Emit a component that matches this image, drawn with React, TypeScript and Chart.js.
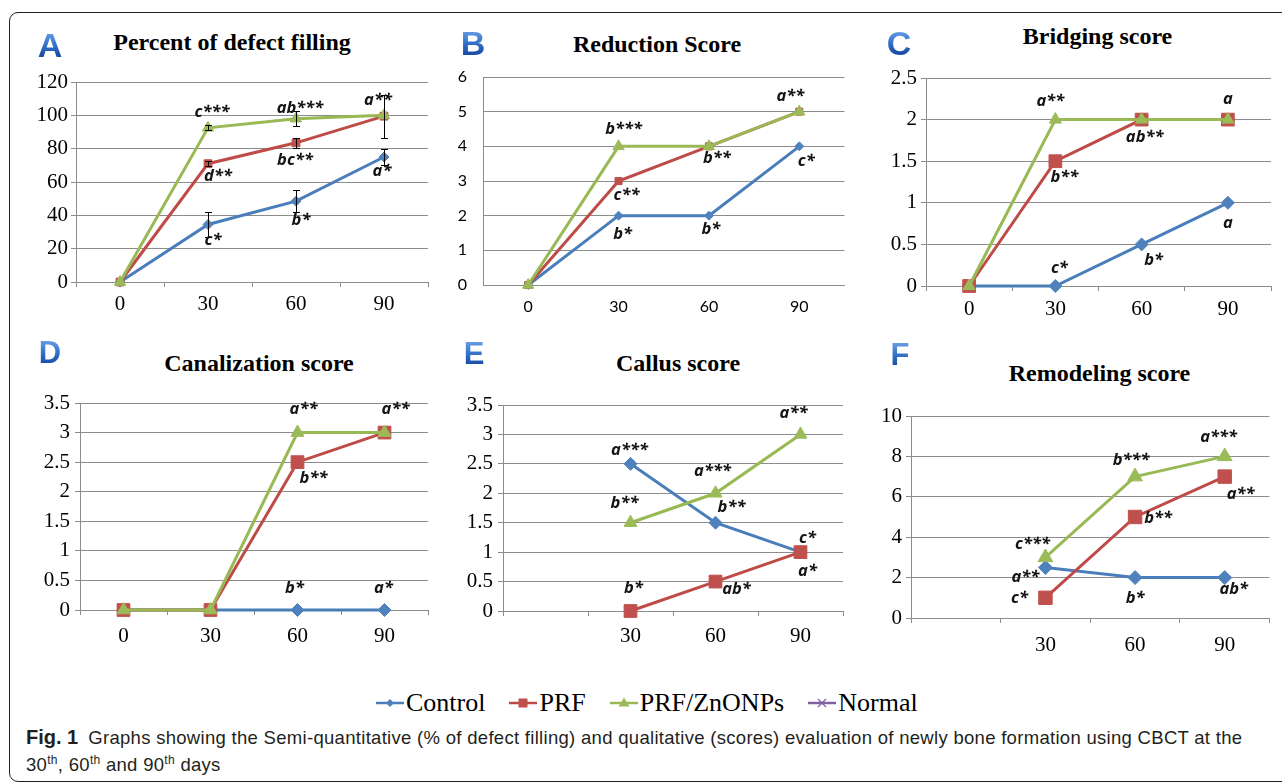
import React, { useEffect, useRef } from "react";
import { Chart, registerables } from "chart.js";

Chart.register(...registerables);

// ---------------- data ----------------
const dayLabels = ["0", "30", "60", "90"];
const dayLabelsLate = ["", "30", "60", "90"];
const seriesNames = ["Control", "PRF", "PRF/ZnONPs", "Normal"];

// A - Percent of defect filling
const fillControl = [0, 34.5, 48.5, 75];
const fillPRF = [0, 71, 83.5, 99.5];
const fillZn = [0, 92.5, 98, 100];
const fillControlErr = [0, 7.5, 6.5, 5];
const fillPRFErr = [0, 1.5, 3, 13];
const fillZnErr = [0, 1.5, 4.5, 0];
const fillTicks = [0, 120, 20];
const fillControlSig = ["", "c*", "b*", "a*"];
const fillPRFSig = ["", "d**", "bc**", "a**"];
const fillZnSig = ["", "c***", "ab***", ""];

// B - Reduction score
const reductionControl = [0, 2, 2, 4];
const reductionPRF = [0, 3, 4, 5];
const reductionZn = [0, 4, 4, 5];
const reductionTicks = [0, 6, 1];
const reductionControlSig = ["", "b*", "b*", "c*"];
const reductionPRFSig = ["", "c**", "b**", "a**"];
const reductionZnSig = ["", "b***", "", ""];

// C - Bridging score
const bridgingControl = [0, 0, 0.5, 1];
const bridgingPRF = [0, 1.5, 2, 2];
const bridgingZn = [0, 2, 2, 2];
const bridgingTicks = [0, 2.5, 0.5];
const bridgingControlSig = ["", "c*", "b*", "a"];
const bridgingPRFSig = ["", "b**", "ab**", "a"];
const bridgingZnSig = ["", "a**", "", ""];

// D - Canalization score
const canalControl = [0, 0, 0, 0];
const canalPRF = [0, 0, 2.5, 3];
const canalZn = [0, 0, 3, 3];
const canalTicks = [0, 3.5, 0.5];
const canalControlSig = ["", "", "b*", "a*"];
const canalPRFSig = ["", "", "b**", ""];
const canalZnSig = ["", "", "a**", "a**"];

// E - Callus score
const callusControl = [null, 2.5, 1.5, 1];
const callusPRF = [null, 0, 0.5, 1];
const callusZn = [null, 1.5, 2, 3];
const callusTicks = [0, 3.5, 0.5];
const callusControlSig = ["", "a***", "b**", "c*"];
const callusPRFSig = ["", "b*", "ab*", "a*"];
const callusZnSig = ["", "b**", "a***", "a**"];

// F - Remodeling score
const remodControl = [null, 2.5, 2, 2];
const remodPRF = [null, 1, 5, 7];
const remodZn = [null, 3, 7, 8];
const remodTicks = [0, 10, 2];
const remodControlSig = ["", "a**", "b*", "ab*"];
const remodPRFSig = ["", "c*", "b**", "a**"];
const remodZnSig = ["", "c***", "b***", "a***"];

// ---------------- label placement (px offsets from the point) ----------------
type Off = [number, number] | null;
const fillControlPos: Off[] = [null, [5, 16], [5, 19], [-2, 14]];
const fillPRFPos: Off[] = [null, [10, 13], [-1, 17], [-6, -16]];
const fillZnPos: Off[] = [null, [4, -16], [4, -10], null];
const reductionControlPos: Off[] = [null, [4, 19], [2, 14], [7, 15]];
const reductionPRFPos: Off[] = [null, [8, 14], [8, 12], [-9, -15]];
const reductionZnPos: Off[] = [null, [5, -17], null, null];
const bridgingControlPos: Off[] = [null, [4, -18], [12, 16], [0, 20]];
const bridgingPRFPos: Off[] = [null, [9, 16], [3, 18], [0, -20]];
const bridgingZnPos: Off[] = [null, [-5, -18], null, null];
const canalControlPos: Off[] = [null, null, [-3, -22], [-1, -22]];
const canalPRFPos: Off[] = [null, null, [16, 16], null];
const canalZnPos: Off[] = [null, null, [6, -23], [11, -23]];
const callusControlPos: Off[] = [null, [-1, -14], [16, -15], [7, -14]];
const callusPRFPos: Off[] = [null, [3, -23], [21, 8], [7, 19]];
const callusZnPos: Off[] = [null, [-6, -19], [-3, -22], [-7, -21]];
const remodControlPos: Off[] = [null, [-20, 10], [0, 21], [9, 12]];
const remodPRFPos: Off[] = [null, [-26, 0], [23, 1], [16, 18]];
const remodZnPos: Off[] = [null, [-13, -13], [-4, -16], [-6, -19]];

// ---------------- styles ----------------
const LINE = ["#4A7EBB", "#BE4B48", "#98B954", "#7D60A0"];
const FILL = ["#4F81BD", "#C0504D", "#9BBB59", "#8064A2"];
const STYLES = ["rectRot", "rect", "triangle"];
const ORDER = [3, 2, 1];
const GRID = "#8c8c8c";
const SERIF = "'Liberation Serif', 'Times New Roman', serif";

type Series = { data: (number | null)[]; sig: string[]; pos: Off[]; err?: number[] };
type PanelDef = {
  letter: string;
  title: string;
  letterAt: [number, number];
  letterSize: number;
  titleAt: [number, number];
  box: [number, number, number, number];
  padTop: number;
  padRight: number;
  yWidth: number;
  xHeight: number;
  labels: string[];
  ticks: number[];
  sans?: boolean;
  xTickMarks: boolean;
  yTickMarks: boolean;
  yPad: number;
  xPad: number;
  radii: number[];
  series: Series[];
};

const panels: PanelDef[] = [
  {
    letter: "A", title: "Percent of defect filling", letterAt: [50, 45], letterSize: 34, titleAt: [232, 42],
    box: [20, 68, 420, 254], padTop: 14, padRight: 12, yWidth: 56, xHeight: 40,
    labels: dayLabels, ticks: fillTicks, xTickMarks: true, yTickMarks: true, yPad: 3, xPad: 5,
    radii: [5, 5.5, 6.5],
    series: [
      { data: fillControl, sig: fillControlSig, pos: fillControlPos, err: fillControlErr },
      { data: fillPRF, sig: fillPRFSig, pos: fillPRFPos, err: fillPRFErr },
      { data: fillZn, sig: fillZnSig, pos: fillZnPos, err: fillZnErr },
    ],
  },
  {
    letter: "B", title: "Reduction Score", letterAt: [473, 43], letterSize: 34, titleAt: [657, 43.5],
    box: [443, 65, 409, 260], padTop: 12, padRight: 0, yWidth: 40, xHeight: 40,
    labels: dayLabels, ticks: reductionTicks, sans: true, xTickMarks: false, yTickMarks: false, yPad: 16, xPad: 12,
    radii: [4.5, 5, 6.5],
    series: [
      { data: reductionControl, sig: reductionControlSig, pos: reductionControlPos },
      { data: reductionPRF, sig: reductionPRFSig, pos: reductionPRFPos },
      { data: reductionZn, sig: reductionZnSig, pos: reductionZnPos },
    ],
  },
  {
    letter: "C", title: "Bridging score", letterAt: [899, 42.5], letterSize: 34, titleAt: [1097.5, 36],
    box: [876, 64, 405, 262], padTop: 14, padRight: 8, yWidth: 50, xHeight: 40,
    labels: dayLabels, ticks: bridgingTicks, xTickMarks: true, yTickMarks: true, yPad: 4, xPad: 6,
    radii: [6.5, 9, 7],
    series: [
      { data: bridgingControl, sig: bridgingControlSig, pos: bridgingControlPos },
      { data: bridgingPRF, sig: bridgingPRFSig, pos: bridgingPRFPos },
      { data: bridgingZn, sig: bridgingZnSig, pos: bridgingZnPos },
    ],
  },
  {
    letter: "D", title: "Canalization score", letterAt: [50, 353], letterSize: 31, titleAt: [259, 362.5],
    box: [24, 389, 416, 261], padTop: 14, padRight: 12, yWidth: 56, xHeight: 40,
    labels: dayLabels, ticks: canalTicks, xTickMarks: true, yTickMarks: true, yPad: 5, xPad: 9,
    radii: [6.5, 9, 7.5],
    series: [
      { data: canalControl, sig: canalControlSig, pos: canalControlPos },
      { data: canalPRF, sig: canalPRFSig, pos: canalPRFPos },
      { data: canalZn, sig: canalZnSig, pos: canalZnPos },
    ],
  },
  {
    letter: "E", title: "Callus score", letterAt: [474, 354], letterSize: 31, titleAt: [678, 362.5],
    box: [453, 391, 400, 260], padTop: 14, padRight: 4, yWidth: 50, xHeight: 40,
    labels: dayLabelsLate, ticks: callusTicks, xTickMarks: true, yTickMarks: true, yPad: 5, xPad: 8,
    radii: [6.5, 9, 7.5],
    series: [
      { data: callusControl, sig: callusControlSig, pos: callusControlPos },
      { data: callusPRF, sig: callusPRFSig, pos: callusPRFPos },
      { data: callusZn, sig: callusZnSig, pos: callusZnPos },
    ],
  },
  {
    letter: "F", title: "Remodeling score", letterAt: [900, 355], letterSize: 31, titleAt: [1099.5, 372.5],
    box: [861, 402, 419, 256], padTop: 14, padRight: 6, yWidth: 50, xHeight: 40,
    labels: dayLabelsLate, ticks: remodTicks, xTickMarks: true, yTickMarks: true, yPad: 4, xPad: 10,
    radii: [7, 9.5, 8.5],
    series: [
      { data: remodControl, sig: remodControlSig, pos: remodControlPos },
      { data: remodPRF, sig: remodPRFSig, pos: remodPRFPos },
      { data: remodZn, sig: remodZnSig, pos: remodZnPos },
    ],
  },
];

function PanelChart({ def }: { def: PanelDef }) {
  const ref = useRef<HTMLCanvasElement | null>(null);
  useEffect(() => {
    if (!ref.current) return;
    const tickFont = def.sans
      ? { family: "Lato, 'Open Sans', sans-serif", size: 16 }
      : { family: SERIF, size: 21 };

    const overlay = {
      id: "overlay",
      afterDatasetsDraw(chart: any) {
        const ctx = chart.ctx as CanvasRenderingContext2D;
        const ys = chart.scales.y;
        ctx.save();
        def.series.forEach((s, si) => {
          if (!s.err) return;
          const meta = chart.getDatasetMeta(si);
          ctx.strokeStyle = "#000";
          ctx.lineWidth = 1;
          s.err.forEach((e, i) => {
            const v = s.data[i];
            if (v == null || !e) return;
            const px = Math.round(meta.data[i].x) + 0.5;
            const t = Math.round(ys.getPixelForValue(v + e)) + 0.5;
            const b = Math.round(ys.getPixelForValue(v - e)) + 0.5;
            ctx.beginPath();
            ctx.moveTo(px, t);
            ctx.lineTo(px, b);
            ctx.moveTo(px - 3.5, t);
            ctx.lineTo(px + 3.5, t);
            ctx.moveTo(px - 3.5, b);
            ctx.lineTo(px + 3.5, b);
            ctx.stroke();
          });
        });
        ctx.font = "italic bold 16.5px 'Open Sans', sans-serif";
        ctx.fillStyle = "#141414";
        ctx.textAlign = "center";
        ctx.textBaseline = "middle";
        def.series.forEach((s, si) => {
          const meta = chart.getDatasetMeta(si);
          s.sig.forEach((txt, i) => {
            const p = s.pos[i];
            if (!txt || !p) return;
            const el = meta.data[i];
            ctx.fillText(txt, el.x + p[0], el.y + p[1]);
          });
        });
        ctx.restore();
      },
    };

    const chart = new Chart(ref.current, {
      type: "line",
      data: {
        labels: def.labels,
        datasets: def.series.map((s, i) => ({
          label: seriesNames[i],
          data: s.data,
          borderColor: LINE[i],
          backgroundColor: FILL[i],
          pointBackgroundColor: FILL[i],
          pointBorderColor: FILL[i],
          pointBorderWidth: 1,
          pointStyle: STYLES[i] as any,
          pointRadius: def.radii[i],
          borderWidth: 3,
          tension: 0,
          order: ORDER[i],
          clip: false as any,
          spanGaps: false,
        })),
      },
      options: {
        animation: false,
        responsive: false,
        maintainAspectRatio: false,
        devicePixelRatio: 1,
        events: [],
        layout: { padding: { left: 0, top: def.padTop, right: def.padRight, bottom: 0 } },
        plugins: {
          legend: { display: false },
          tooltip: { enabled: false },
          title: { display: false },
        },
        scales: {
          x: {
            type: "category",
            offset: true,
            grid: {
              display: def.xTickMarks,
              drawOnChartArea: false,
              drawTicks: def.xTickMarks,
              tickLength: 5,
              offset: true,
              color: GRID,
            },
            border: { display: true, color: GRID, width: 1 },
            ticks: {
              font: tickFont,
              color: "#000",
              padding: def.xPad,
              autoSkip: false,
              maxRotation: 0,
            },
            afterFit: (s: any) => {
              s.height = def.xHeight;
              s.paddingLeft = 0;
              s.paddingRight = 0;
            },
          },
          y: {
            min: def.ticks[0],
            max: def.ticks[1],
            ticks: {
              stepSize: def.ticks[2],
              font: tickFont,
              color: "#000",
              padding: def.yPad,
              callback: (v: any) => String(Number(v)),
            },
            grid: {
              color: GRID,
              drawTicks: def.yTickMarks,
              tickLength: def.yTickMarks ? 5 : 0,
            },
            border: { display: true, color: GRID, width: 1 },
            afterFit: (s: any) => {
              s.width = def.yWidth;
              s.paddingTop = 0;
              s.paddingBottom = 0;
            },
          },
        },
      } as any,
      plugins: [overlay as any],
    });
    return () => chart.destroy();
  }, [def]);

  const [left, top, width, height] = def.box;
  return (
    <>
      <canvas
        ref={ref}
        width={width}
        height={height}
        style={{ position: "absolute", left, top, width, height }}
      />
      <div
        style={{
          position: "absolute",
          left: def.letterAt[0] - 25,
          top: def.letterAt[1] - 20,
          width: 50,
          height: 40,
          lineHeight: "40px",
          textAlign: "center",
          fontFamily: "'Liberation Sans', Arial, sans-serif",
          fontWeight: "bold",
          fontSize: def.letterSize,
          background: "linear-gradient(180deg, #8ab8ee 0%, #3a78d0 45%, #1a4ea8 75%, #123f8c 100%)",
          WebkitBackgroundClip: "text",
          backgroundClip: "text",
          color: "transparent",
        }}
      >
        {def.letter}
      </div>
      <div
        style={{
          position: "absolute",
          left: def.titleAt[0] - 200,
          top: def.titleAt[1] - 12,
          width: 400,
          textAlign: "center",
          fontFamily: SERIF,
          fontWeight: "bold",
          fontSize: 24,
          lineHeight: "24px",
          color: "#000",
          whiteSpace: "nowrap",
        }}
      >
        {def.title}
      </div>
    </>
  );
}

function LegendIcon({ i }: { i: number }) {
  const c = FILL[i];
  return (
    <svg width={28} height={16} style={{ display: "block", marginRight: 2 }}>
      <line x1={0} y1={8} x2={28} y2={8} stroke={LINE[i]} strokeWidth={2.5} />
      {i === 0 && <polygon points="14,4 18,8 14,12 10,8" fill={c} />}
      {i === 1 && <rect x={9.5} y={3.5} width={9} height={9} fill={c} />}
      {i === 2 && <polygon points="14,2.5 19.5,11.5 8.5,11.5" fill={c} />}
      {i === 3 && (
        <g stroke={c} strokeWidth={1.2}>
          <line x1={10} y1={4} x2={18} y2={12} />
          <line x1={18} y1={4} x2={10} y2={12} />
        </g>
      )}
    </svg>
  );
}

const supStyle = { fontSize: "0.65em", lineHeight: 0, verticalAlign: "super" } as const;

export default function App() {
  return (
    <div
      style={{
        position: "fixed",
        left: 0,
        top: 0,
        width: 1282,
        height: 782,
        overflow: "hidden",
        background: "#fff",
      }}
    >
      <div
        style={{
          position: "absolute",
          left: 9,
          top: 12,
          width: 1400,
          height: 770,
          boxSizing: "border-box",
          border: "1.5px solid #231f20",
          borderRadius: 9,
        }}
      />
      {panels.map((p) => (
        <PanelChart key={p.letter} def={p} />
      ))}
      <div
        style={{
          position: "absolute",
          left: 376,
          top: 690,
          display: "flex",
          alignItems: "center",
          gap: 24,
          fontFamily: SERIF,
          fontSize: 26,
          lineHeight: "26px",
          color: "#000",
          whiteSpace: "nowrap",
        }}
      >
        {seriesNames.map((n, i) => (
          <div key={n} style={{ display: "flex", alignItems: "center" }}>
            <LegendIcon i={i} />
            <span style={{ fontFamily: SERIF }}>{n}</span>
          </div>
        ))}
      </div>
      <div
        style={{
          position: "absolute",
          left: 26,
          top: 724,
          fontFamily: "'Liberation Sans', Arial, sans-serif",
          fontSize: 18.5,
          letterSpacing: "0.3px",
          lineHeight: "27px",
          color: "#231f20",
          whiteSpace: "nowrap",
        }}
      >
        <b style={{ fontSize: 20, letterSpacing: 0 }}>Fig. 1</b>
        <span style={{ display: "inline-block", width: 10 }} />
        Graphs showing the Semi-quantitative (% of defect filling) and qualitative (scores) evaluation of newly bone formation using CBCT at the
        <br />
        30<sup style={supStyle}>th</sup>, 60<sup style={supStyle}>th</sup> and 90<sup style={supStyle}>th</sup> days
      </div>
    </div>
  );
}
